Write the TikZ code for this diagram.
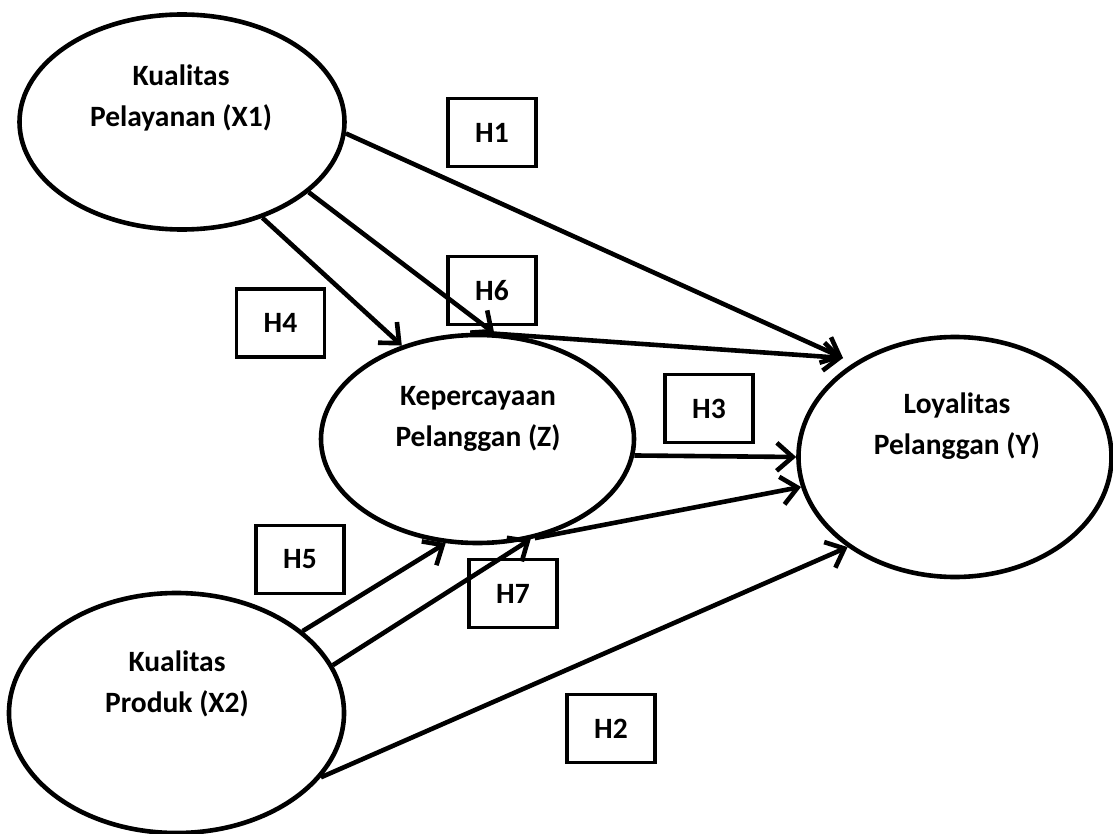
\documentclass[tikz,border=0pt]{standalone}
\usepackage{fontspec}
\setmainfont{Carlito}
\usetikzlibrary{shapes.geometric,arrows.meta}
\begin{document}
\begin{tikzpicture}[x=1pt,y=-1pt,
  construct/.style={ellipse,draw,line width=4.6pt,inner sep=0pt},
  lbl/.style={align=center,font=\bfseries\fontsize{29.5}{41}\selectfont,inner sep=0pt},
  hbox/.style={draw,line width=3.8pt,minimum width=88pt,minimum height=68pt,inner sep=0pt,font=\bfseries\fontsize{29.5}{34}\selectfont},
  conn/.style={line width=4.6pt,-{Straight Barb[length=16pt,width=28pt]}}
]
\useasboundingbox (0,0) rectangle (1113,834);
% constructs
\node[construct,minimum width=325pt,minimum height=215pt] (X1) at (182,122) {};
\node[lbl] (X1t) at (181,98) {Kualitas\\Pelayanan (X1)};
\node[construct,minimum width=313pt,minimum height=208pt] (Z) at (477.5,439) {};
\node[lbl] (Zt) at (478,419) {Kepercayaan\\Pelanggan (Z)};
\node[construct,minimum width=313pt,minimum height=240pt] (Y) at (955,457) {};
\node[lbl] (Yt) at (957,426) {Loyalitas\\Pelanggan (Y)};
\node[construct,minimum width=335pt,minimum height=240pt] (X2) at (176.5,713) {};
\node[lbl] (X2t) at (177,684) {Kualitas\\Produk (X2)};
% hypothesis boxes
\node[hbox] (H1) at (492,132.5) {H1};
\node[hbox] (H4) at (280.5,323) {H4};
\node[hbox] (H6) at (492,290.5) {H6};
\node[hbox] (H3) at (709,408.5) {H3};
\node[hbox] (H5) at (300,559.5) {H5};
\node[hbox] (H7) at (513,593.5) {H7};
\node[hbox] (H2) at (611,728.5) {H2};
% arrow tip near Y
\coordinate (yt1) at (843,358);
% connectors
\draw[conn] (X1.-4.6) -- (yt1);
\draw[conn] (X1.-50.6) -- (Z.129);
\draw[conn] (X1.-29.3) -- (Z.81);
\draw[conn] (Z.88) -- (yt1);
\draw[conn] (Z.-6.6) -- (Y.west);
\draw[conn] (X2.33.4) -- (Z.-107.7);
\draw[conn] (X2.17.8) -- (Z.-62.4);
\draw[conn] (Z.-60) -- (Y.-169);
\draw[conn] (X2.-24.1) -- (Y.-140);
\end{tikzpicture}
\end{document}
